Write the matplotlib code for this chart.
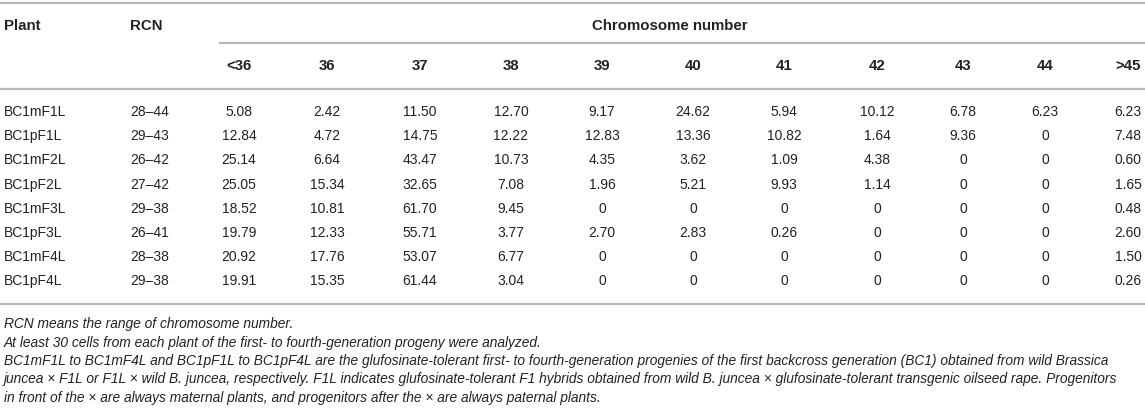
import matplotlib.pyplot as plt

# Table content
plants = ["BC1mF1L", "BC1pF1L", "BC1mF2L", "BC1pF2L",
          "BC1mF3L", "BC1pF3L", "BC1mF4L", "BC1pF4L"]
rcn = ["28–44", "29–43", "26–42", "27–42", "29–38", "26–41", "28–38", "29–38"]
chrom_cols = ["<36", "36", "37", "38", "39", "40", "41", "42", "43", "44", ">45"]
values = [
    ["5.08", "2.42", "11.50", "12.70", "9.17", "24.62", "5.94", "10.12", "6.78", "6.23", "6.23"],
    ["12.84", "4.72", "14.75", "12.22", "12.83", "13.36", "10.82", "1.64", "9.36", "0", "7.48"],
    ["25.14", "6.64", "43.47", "10.73", "4.35", "3.62", "1.09", "4.38", "0", "0", "0.60"],
    ["25.05", "15.34", "32.65", "7.08", "1.96", "5.21", "9.93", "1.14", "0", "0", "1.65"],
    ["18.52", "10.81", "61.70", "9.45", "0", "0", "0", "0", "0", "0", "0.48"],
    ["19.79", "12.33", "55.71", "3.77", "2.70", "2.83", "0.26", "0", "0", "0", "2.60"],
    ["20.92", "17.76", "53.07", "6.77", "0", "0", "0", "0", "0", "0", "1.50"],
    ["19.91", "15.35", "61.44", "3.04", "0", "0", "0", "0", "0", "0", "0.26"],
]
footnotes = [
    "RCN means the range of chromosome number.",
    "At least 30 cells from each plant of the first- to fourth-generation progeny were analyzed.",
    "BC1mF1L to BC1mF4L and BC1pF1L to BC1pF4L are the glufosinate-tolerant first- to fourth-generation progenies of the first backcross generation (BC1) obtained from wild Brassica",
    "juncea × F1L or F1L × wild B. juncea, respectively. F1L indicates glufosinate-tolerant F1 hybrids obtained from wild B. juncea × glufosinate-tolerant transgenic oilseed rape. Progenitors",
    "in front of the × are always maternal plants, and progenitors after the × are always paternal plants.",
]

plt.rcParams['font.family'] = ['Liberation Sans', 'DejaVu Sans']

fig = plt.figure(figsize=(11.45, 4.17), dpi=100)
ax = fig.add_axes([0, 0, 1, 1])
ax.set_xlim(0, 1145)
ax.set_ylim(417, 0)
ax.axis("off")

# layout (pixels)
col_x = [239, 327, 420, 511, 602, 693, 784, 877, 963, 1045, 1128]
row0, row_h = 112, 24.2
fs, hfs, nfs = 10, 10.8, 9.95
txt = "#222222"
line_c = "#b8b8b8"

# rules
bottom = row0 + row_h * (len(plants) - 1) + 23
for x0, y in [(0, 3), (220, 43), (0, 89), (0, bottom)]:
    ax.plot([x0, 1145], [y, y], color=line_c, lw=1.6)

# headers
ax.text(4, 26, "Plant", fontsize=hfs, fontweight="bold", color=txt, va="center")
ax.text(130, 26, "RCN", fontsize=hfs, fontweight="bold", color=txt, va="center")
ax.text(592, 26, "Chromosome number", fontsize=hfs, fontweight="bold", color=txt, va="center")
for x, c in zip(col_x, chrom_cols):
    ax.text(x, 66, c, fontsize=hfs, fontweight="bold", color=txt, va="center", ha="center")

# body
for i, (p, r, vals) in enumerate(zip(plants, rcn, values)):
    y = row0 + i * row_h
    ax.text(4, y, p, fontsize=fs, color=txt, va="center")
    ax.text(130, y, r, fontsize=fs, color=txt, va="center")
    for x, v in zip(col_x, vals):
        ax.text(x, y, v, fontsize=fs, color=txt, va="center", ha="center")

# footnotes
for j, f in enumerate(footnotes):
    ax.text(4, bottom + 20 + j * 18.3, f, fontsize=nfs, style="italic", color=txt, va="center")

fig.savefig("out.png", dpi=100)
